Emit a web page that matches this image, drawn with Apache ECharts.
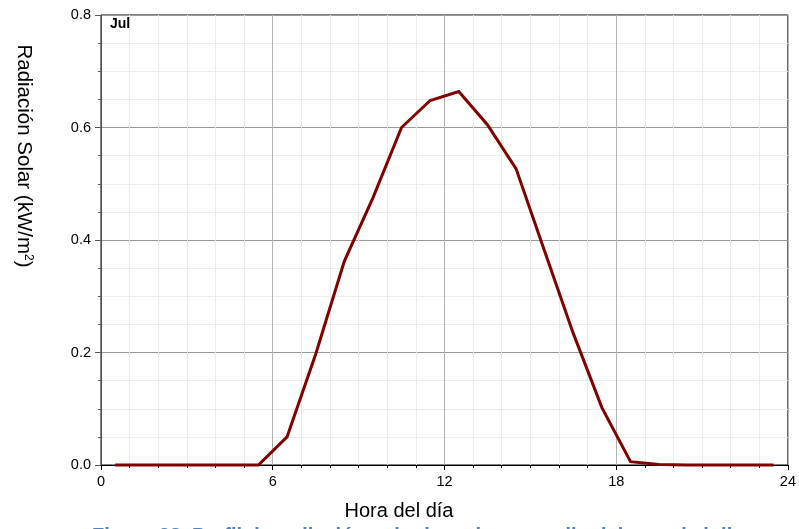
<!DOCTYPE html>
<html>
<head>
<meta charset="utf-8">
<script src="https://cdn.jsdelivr.net/npm/echarts@6/dist/echarts.min.js"></script>
<style>
  html, body { margin: 0; padding: 0; background: #fff; }
  #chart { width: 799px; height: 529px; }
</style>
</head>
<body>
<div id="chart"></div>
<script>
// Hourly mean solar radiation for July (kW/m2), one value at each half hour
const hours = [0.5, 1.5, 2.5, 3.5, 4.5, 5.5, 6.5, 7.5, 8.5, 9.5, 10.5, 11.5,
               12.5, 13.5, 14.5, 15.5, 16.5, 17.5, 18.5, 19.5, 20.5, 21.5, 22.5, 23.5];
const radiation = [0, 0, 0, 0, 0, 0, 0.050, 0.197, 0.362, 0.475, 0.600, 0.648,
                   0.664, 0.605, 0.527, 0.380, 0.234, 0.102, 0.006, 0.001, 0, 0, 0, 0];
const xTicks = [0, 6, 12, 18, 24];
const yTicks = [0.0, 0.2, 0.4, 0.6, 0.8];
const monthLabel = 'Jul';
const xTitle = 'Hora del día';
const yTitle = 'Radiación Solar (kW/m{sup|2})';
const caption = 'Figura 28. Perfil de radiación solar horaria promedio del mes de julio';

const FONT = '"Liberation Sans", Arial, Helvetica, sans-serif';
const chart = echarts.init(document.getElementById('chart'), null, { renderer: 'canvas' });

chart.setOption({
  animation: false,
  backgroundColor: '#ffffff',
  grid: {
    left: 101, right: 11, top: 15, bottom: 64,
    show: true, borderColor: '#000', borderWidth: 1, backgroundColor: 'transparent'
  },
  xAxis: {
    type: 'value',
    min: xTicks[0], max: xTicks[xTicks.length - 1], interval: 6,
    axisLine: { show: true, onZero: false, lineStyle: { color: '#000', width: 1 } },
    axisTick: { show: true, length: 5, lineStyle: { color: '#000' } },
    minorTick: { show: true, splitNumber: 6, length: 3, lineStyle: { color: '#000' } },
    axisLabel: { fontFamily: FONT, fontSize: 14.5, color: '#000', margin: 9 },
    splitLine: { show: true, lineStyle: { color: '#b4b4b4', width: 1 } },
    minorSplitLine: { show: true, lineStyle: { color: '#ececec', width: 1 } }
  },
  yAxis: {
    type: 'value',
    min: yTicks[0], max: yTicks[yTicks.length - 1], interval: 0.2,
    axisLine: { show: true, onZero: false, lineStyle: { color: '#555', width: 1 } },
    axisTick: { show: true, length: 6, lineStyle: { color: '#555' } },
    minorTick: { show: true, splitNumber: 4, length: 3, lineStyle: { color: '#555' } },
    axisLabel: {
      fontFamily: FONT, fontSize: 14.5, color: '#000', margin: 10,
      formatter: v => v.toFixed(1)
    },
    splitLine: { show: true, lineStyle: { color: '#999', width: 1 } },
    minorSplitLine: { show: true, lineStyle: { color: '#ececec', width: 1 } }
  },
  series: [{
    type: 'line',
    data: hours.map((h, i) => [h, radiation[i]]),
    showSymbol: false,
    symbol: 'none',
    lineStyle: { color: '#800000', width: 3, join: 'miter' },
    clip: false,
    z: 5
  }],
  graphic: [
    {
      type: 'text', left: 110, top: 17, z: 10,
      style: { text: monthLabel, font: 'bold 14px ' + FONT, fill: '#000' }
    },
    {
      // y axis title, rotated to read downward
      type: 'text', x: 24, y: 156, rotation: -Math.PI / 2, z: 10,
      style: {
        text: yTitle, font: '20.5px ' + FONT, fill: '#000',
        align: 'center', verticalAlign: 'middle',
        rich: { sup: { font: '12px ' + FONT, fill: '#000', verticalAlign: 'top', padding: [0, 0, 9, 0] } }
      }
    },
    {
      type: 'text', x: 399, y: 501, z: 10,
      style: { text: xTitle, font: '20px ' + FONT, fill: '#000', align: 'center', verticalAlign: 'top' }
    },
    {
      // figure caption, running off the bottom edge
      type: 'text', x: 92, y: 526, z: 9,
      style: { text: caption, font: 'bold 20px ' + FONT, fill: '#4f81bd', verticalAlign: 'top' }
    }
  ]
});
</script>
</body>
</html>
